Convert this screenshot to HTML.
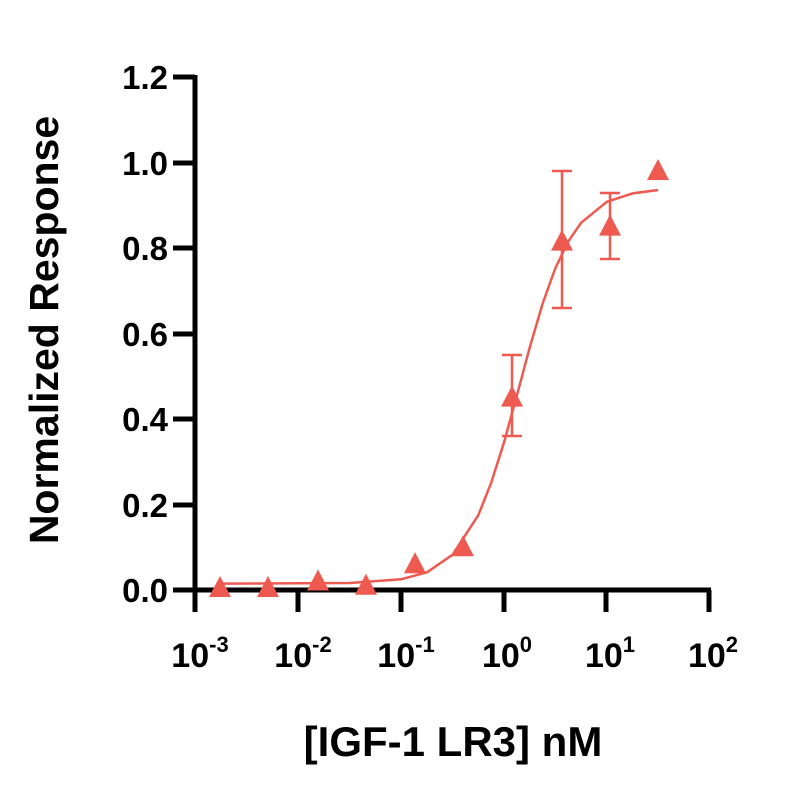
<!DOCTYPE html><html><head><style>body{margin:0;background:#fff}</style></head><body>
<svg width="800" height="800" xmlns="http://www.w3.org/2000/svg" font-family="Liberation Sans, sans-serif" font-weight="bold">
<g stroke="#000" stroke-width="5" fill="none">
<line x1="195" y1="75" x2="195" y2="612"/>
<line x1="173" y1="590" x2="711" y2="590"/>
<line x1="173" y1="77" x2="195" y2="77"/><line x1="173" y1="163" x2="195" y2="163"/><line x1="173" y1="248" x2="195" y2="248"/><line x1="173" y1="334" x2="195" y2="334"/><line x1="173" y1="419" x2="195" y2="419"/><line x1="173" y1="505" x2="195" y2="505"/>
<line x1="298" y1="590" x2="298" y2="612"/><line x1="401" y1="590" x2="401" y2="612"/><line x1="504" y1="590" x2="504" y2="612"/><line x1="606" y1="590" x2="606" y2="612"/><line x1="709" y1="590" x2="709" y2="612"/>
</g>
<g font-size="33" text-anchor="end">
<text x="168" y="89">1.2</text><text x="168" y="175">1.0</text><text x="168" y="260">0.8</text><text x="168" y="346">0.6</text><text x="168" y="431">0.4</text><text x="168" y="517">0.2</text><text x="168" y="602">0.0</text>
</g>
<g font-size="34" text-anchor="middle">
<text x="200" y="667">10<tspan font-size="22" dy="-15">-3</tspan></text>
<text x="303" y="667">10<tspan font-size="22" dy="-15">-2</tspan></text>
<text x="406" y="667">10<tspan font-size="22" dy="-15">-1</tspan></text>
<text x="507" y="667">10<tspan font-size="22" dy="-15">0</tspan></text>
<text x="610" y="667">10<tspan font-size="22" dy="-15">1</tspan></text>
<text x="713" y="667">10<tspan font-size="22" dy="-15">2</tspan></text>
</g>
<text x="453" y="756" font-size="42" text-anchor="middle">[IGF-1 LR3] nM</text>
<text transform="translate(58,330) rotate(-90)" font-size="41" text-anchor="middle">Normalized Response</text>
<g stroke="#ef5a50" stroke-width="2.5" fill="none" stroke-linejoin="round">
<polyline points="220,583.6 349.8,583 401,579.3 427,572.3 452.6,554.7 478.3,515.2 491.1,483 504,442.5 516.9,395.5 529.7,347.6 542.5,304 555.4,268 568.2,241.6 581.1,222.8 606.8,201.8 632.5,193.4 658,190"/>
<line x1="512" y1="355" x2="512" y2="436"/><line x1="502" y1="355" x2="522" y2="355"/><line x1="502" y1="436" x2="522" y2="436"/>
<line x1="562" y1="171" x2="562" y2="308"/><line x1="552" y1="171" x2="572" y2="171"/><line x1="552" y1="308" x2="572" y2="308"/>
<line x1="610" y1="193" x2="610" y2="259"/><line x1="600" y1="193" x2="620" y2="193"/><line x1="600" y1="259" x2="620" y2="259"/>
</g>
<g fill="#ef5a50">
<polygon points="209,597 231,597 220,576"/>
<polygon points="257,597 279,597 268,576"/>
<polygon points="307,590.5 329,590.5 318,569.5"/>
<polygon points="355,594.7 377,594.7 366,573.7"/>
<polygon points="404,573.3 426,573.3 415,552.3"/>
<polygon points="452,556.3 474,556.3 463,535.3"/>
<polygon points="501,406.6 523,406.6 512,385.6"/>
<polygon points="551,250.6 573,250.6 562,229.6"/>
<polygon points="599,235.6 621,235.6 610,214.6"/>
<polygon points="647,180 669,180 658,159"/>
</g>
</svg></body></html>
